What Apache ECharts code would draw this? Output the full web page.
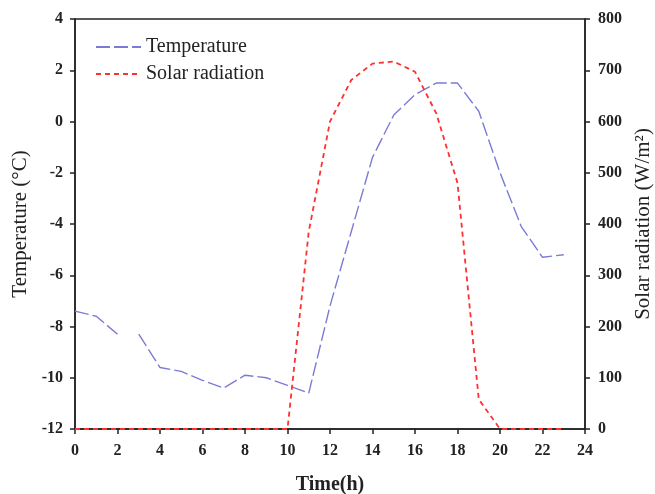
<!DOCTYPE html>
<html>
<head>
<meta charset="utf-8">
<script src="https://cdn.jsdelivr.net/npm/echarts@6/dist/echarts.min.js"></script>
<style>html,body{margin:0;padding:0;background:#fff}#c{width:655px;height:494px}</style>
</head>
<body>
<div id="c"></div>
<script>
const hours = [0,1,2,3,4,5,6,7,8,9,10,11,12,13,14,15,16,17,18,19,20,21,22,23];
const temperature = [-7.4,-7.6,-8.3,-8.3,-9.6,-9.75,-10.1,-10.4,-9.9,-10.0,-10.3,-10.6,-7.2,-4.3,-1.4,0.25,1.05,1.5,1.5,0.4,-2.0,-4.1,-5.3,-5.2];
const solarRadiation = [0,0,0,0,0,0,0,0,0,0,0,385,600,681,713,717,697,616,480,58,0,0,0,0];
const tempGapAfterHour = 2; // the temperature line is broken between hour 2 and hour 3
const xTicks = {min:0, max:24, interval:2};
const tempTicks = {min:-12, max:4, interval:2};
const solarTicks = {min:0, max:800, interval:100};

const tempData = [];
hours.forEach((h,i)=>{
  tempData.push([h, temperature[i]]);
  if (h === tempGapAfterHour) tempData.push([h + 0.5, '-']);
});
const solarData = hours.map((h,i)=>[h, solarRadiation[i]]);

const serif = '"Liberation Serif","Times New Roman",serif';
const axisLine = {show:true, onZero:false, lineStyle:{color:'#222', width:1.5}};
const axisTick = {show:true, inside:false, length:5, lineStyle:{color:'#222', width:1.5}};
const labelStyle = {color:'#222', fontFamily:serif, fontSize:16, fontWeight:'bold'};

const chart = echarts.init(document.getElementById('c'), null, {renderer:'canvas'});
chart.setOption({
  animation:false,
  backgroundColor:'#fff',
  grid:{left:75, right:70, top:19, bottom:65, show:true, borderColor:'#222', borderWidth:1.5,
        containLabel:false, outerBoundsMode:'none'},
  legend:{
    left:90, top:32, orient:'vertical', itemWidth:45, itemHeight:14, itemGap:7,
    itemStyle:{opacity:0},
    textStyle:{fontFamily:serif, fontSize:20, color:'#222'},
    data:['Temperature','Solar radiation']
  },
  xAxis:{
    type:'value', min:xTicks.min, max:xTicks.max, interval:xTicks.interval,
    name:'Time(h)', nameLocation:'middle', nameGap:46,
    nameTextStyle:{fontFamily:serif, fontSize:20, fontWeight:'bold', color:'#222'},
    axisLine, axisTick, splitLine:{show:false},
    axisLabel:{...labelStyle, margin:14}
  },
  yAxis:[{
    type:'value', position:'left', min:tempTicks.min, max:tempTicks.max, interval:tempTicks.interval,
    name:'Temperature (°C)', nameLocation:'middle', nameGap:40, nameRotate:90,
    nameTextStyle:{fontFamily:serif, fontSize:21, color:'#222'},
    axisLine, axisTick, splitLine:{show:false},
    axisLabel:{...labelStyle, margin:12}
  },{
    type:'value', position:'right', min:solarTicks.min, max:solarTicks.max, interval:solarTicks.interval,
    name:'Solar radiation (W/m²)', nameLocation:'middle', nameGap:45, nameRotate:90,
    nameTextStyle:{fontFamily:serif, fontSize:21, color:'#222'},
    axisLine, axisTick, splitLine:{show:false},
    axisLabel:{...labelStyle, margin:13}
  }],
  series:[{
    name:'Temperature', type:'line', yAxisIndex:0, data:tempData,
    symbol:'none', connectNulls:false,
    lineStyle:{color:'#7b7bd6', width:1.4, type:[14,4]},
    itemStyle:{color:'#7b7bd6'}
  },{
    name:'Solar radiation', type:'line', yAxisIndex:1, data:solarData,
    symbol:'none',
    lineStyle:{color:'#ff3030', width:1.8, type:[5,4]},
    itemStyle:{color:'#ff3030'}
  }]
});
</script>
</body>
</html>
